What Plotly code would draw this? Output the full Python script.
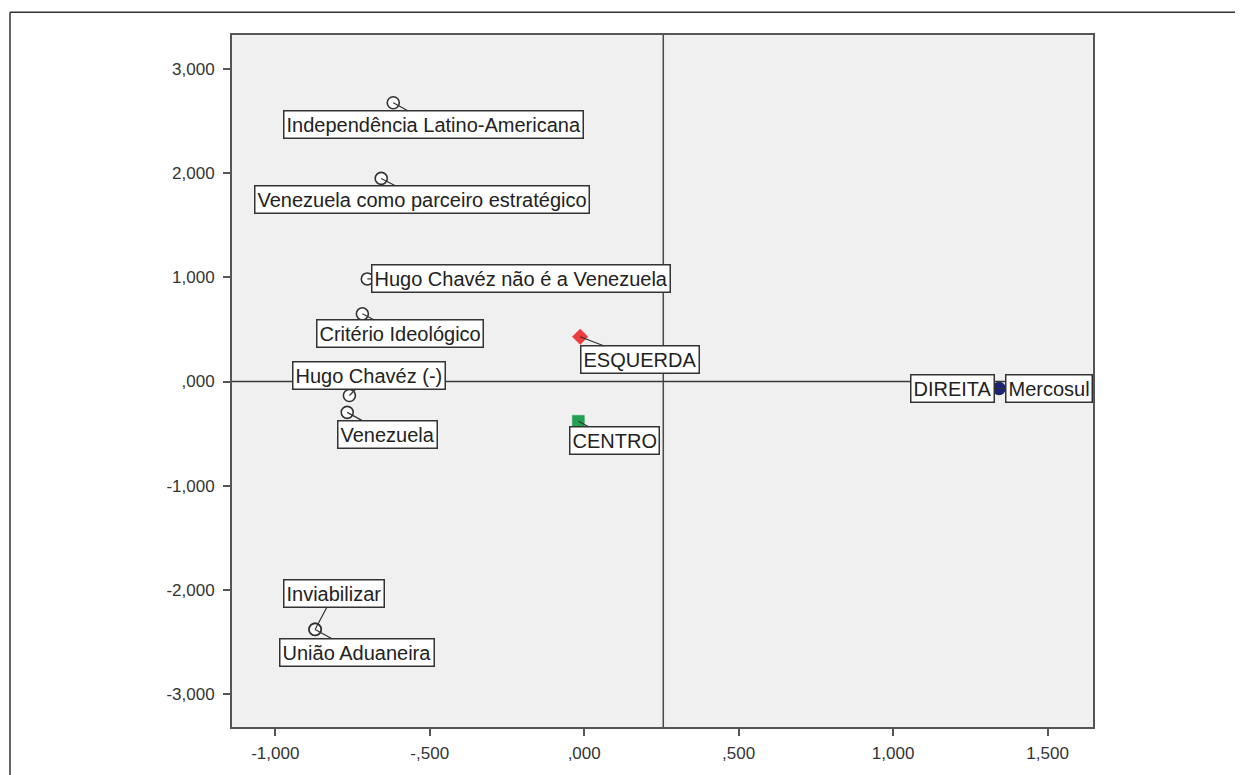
import plotly.graph_objects as go

# ---- data ----
item_labels = ["Independência Latino-Americana", "Venezuela como parceiro estratégico",
               "Hugo Chavéz não é a Venezuela", "Critério Ideológico", "Hugo Chavéz (-)",
               "Venezuela", "União Aduaneira", "Inviabilizar", "Mercosul"]
item_x = [-0.618, -0.657, -0.702, -0.718, -0.760, -0.767, -0.871, -0.871, 1.343]
item_y = [2.677, 1.950, 0.985, 0.650, -0.134, -0.296, -2.380, -2.380, -0.067]

group_labels = ["ESQUERDA", "CENTRO", "DIREITA"]
group_x = [-0.013, -0.019, 1.343]
group_y = [0.430, -0.382, -0.067]

ref_x = 0.256
ref_y = 0.0

x_tickvals = [-1.0, -0.5, 0.0, 0.5, 1.0, 1.5]
x_ticktext = ["-1,000", "-,500", ",000", ",500", "1,000", "1,500"]
y_tickvals = [3, 2, 1, 0, -1, -2, -3]
y_ticktext = ["3,000", "2,000", "1,000", ",000", "-1,000", "-2,000", "-3,000"]

# ---- styles (label offsets in pixels: text-box centre relative to point) ----
item_offsets = [(40, 22), (41, 21), (154, 0), (38, 20), (20, -20),
                (40, 22), (42, 23), (19, -36), (50, 0)]
group_offsets = [(60, 23), (36, 19), (-47, 0)]
group_symbols = ["diamond", "square", "circle"]
group_colors = ["#ee3b3b", "#20a050", "#1c237a"]

FONT = "Liberation Sans, Arial, sans-serif"

fig = go.Figure()

fig.add_trace(go.Scatter(
    x=item_x, y=item_y, mode="markers", showlegend=False, hoverinfo="text",
    text=item_labels,
    marker=dict(symbol="circle", size=12, color="white",
                line=dict(color="#333333", width=1.6)),
))
for lbl, gx, gy, sym, col in zip(group_labels, group_x, group_y, group_symbols, group_colors):
    fig.add_trace(go.Scatter(
        x=[gx], y=[gy], mode="markers", showlegend=False, hoverinfo="text", text=[lbl],
        marker=dict(symbol=sym, size=12, color=col, line=dict(color=col, width=0.5)),
    ))

annotations = []
for lbl, px, py, (ax, ay) in zip(item_labels + group_labels, item_x + group_x,
                                  item_y + group_y, item_offsets + group_offsets):
    annotations.append(dict(
        x=px, y=py, xref="x", yref="y", text=lbl, showarrow=True,
        ax=ax, ay=ay, arrowhead=0, arrowwidth=1.2, arrowcolor="#333333",
        standoff=0, startstandoff=0,
        font=dict(family=FONT, size=20, color="#222222"),
        bgcolor="white", bordercolor="#333333", borderwidth=1.5, borderpad=2,
    ))

# page body has an 8px margin: figure is 1235x767, plot area at screen x 232..1093, y 34..729
PL, PR, PT, PB = 224, 1085, 27, 723
def px_to_paper_x(p):
    return (p - PL) / (PR - PL)
def px_to_paper_y(p):
    return (PB - p) / (PB - PT)

shapes = [
    # reference lines
    dict(type="line", xref="x", yref="y", x0=ref_x, x1=ref_x, y0=-3.317, y1=3.327,
         line=dict(color="#4a4a4a", width=1.5), layer="below"),
    dict(type="line", xref="x", yref="y", x0=-1.14, x1=1.647, y0=ref_y, y1=ref_y,
         line=dict(color="#3a3a3a", width=1.5), layer="below"),
    # outer frame (left and top edges)
    dict(type="line", xref="paper", yref="paper", x0=px_to_paper_x(2), x1=px_to_paper_x(2),
         y0=px_to_paper_y(4), y1=px_to_paper_y(800), line=dict(color="#333333", width=1.5)),
    dict(type="line", xref="paper", yref="paper", x0=px_to_paper_x(2), x1=px_to_paper_x(1300),
         y0=px_to_paper_y(4), y1=px_to_paper_y(4), line=dict(color="#333333", width=1.5)),
]

fig.update_layout(
    width=1235, height=767,
    margin=dict(l=PL, r=1235 - PR, t=PT, b=767 - PB),
    paper_bgcolor="white", plot_bgcolor="#f0f0f0",
    font=dict(family=FONT, size=17, color="#333333"),
    annotations=annotations, shapes=shapes,
)
fig.update_xaxes(range=[-1.14, 1.647], tickvals=x_tickvals, ticktext=x_ticktext,
                 showgrid=False, zeroline=False, showline=True, mirror=True,
                 linecolor="#555555", linewidth=2, ticks="outside", ticklen=7,
                 tickwidth=2, tickcolor="#555555", ticklabelstandoff=3,
                 tickfont=dict(size=17, color="#333333"))
fig.update_yaxes(range=[-3.317, 3.327], tickvals=y_tickvals, ticktext=y_ticktext,
                 showgrid=False, zeroline=False, showline=True, mirror=True,
                 linecolor="#555555", linewidth=2, ticks="outside", ticklen=7,
                 tickwidth=2, tickcolor="#555555", ticklabelstandoff=5,
                 tickfont=dict(size=17, color="#333333"))

fig.write_html("out.html")
